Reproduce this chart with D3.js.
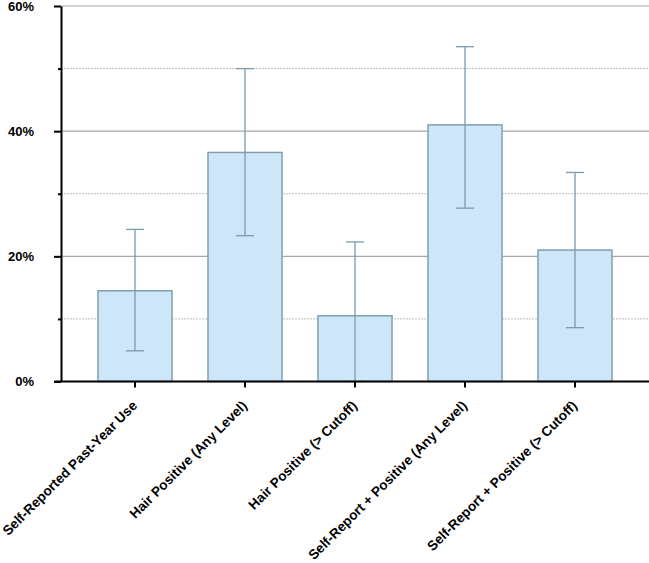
<!DOCTYPE html>
<html>
<head>
<meta charset="utf-8">
<script src="https://cdn.jsdelivr.net/npm/d3@7/dist/d3.min.js"></script>
<style>
  body { margin: 0; background: #fff; }
  svg { display: block; font-family: "Liberation Sans", Arial, sans-serif; }
</style>
</head>
<body>
<svg id="chart" width="649" height="563"></svg>
<script>
const categories = [
  "Self-Reported Past-Year Use",
  "Hair Positive (Any Level)",
  "Hair Positive (> Cutoff)",
  "Self-Report + Positive (Any Level)",
  "Self-Report + Positive (> Cutoff)"
];
const values = [14.5, 36.6, 10.5, 41.0, 21.0];
const lowerCI = [4.9, 23.3, 0.0, 27.7, 8.6];
const upperCI = [24.3, 50.0, 22.3, 53.5, 33.4];
const majorTicks = [0, 20, 40, 60];
const minorTicks = [10, 30, 50];

const svg = d3.select("#chart");
const axisX = 61, plotRight = 649;
const y = d3.scaleLinear().domain([0, 60]).range([381.5, 6]);
const x = d3.scaleBand().domain(categories).range([80, 630])
  .paddingInner(0.327).paddingOuter(0.1635);

const data = categories.map((c, i) => ({c, v: values[i], lo: lowerCI[i], hi: upperCI[i]}));

// gridlines
svg.append("g").selectAll("line").data(minorTicks).join("line")
  .attr("x1", axisX).attr("x2", plotRight)
  .attr("y1", d => y(d)).attr("y2", d => y(d))
  .attr("stroke", "#bdbdbd").attr("stroke-width", 1).attr("stroke-dasharray", "2,1");
svg.append("g").selectAll("line").data(majorTicks.filter(d => d > 0)).join("line")
  .attr("x1", axisX).attr("x2", plotRight)
  .attr("y1", d => y(d)).attr("y2", d => y(d))
  .attr("stroke", "#a6a6a6").attr("stroke-width", 1.2);

// bars
svg.append("g").selectAll("rect").data(data).join("rect")
  .attr("x", d => x(d.c)).attr("width", x.bandwidth())
  .attr("y", d => y(d.v)).attr("height", d => y(0) - y(d.v))
  .attr("fill", "#cde7f8").attr("stroke", "#7f9fb0").attr("stroke-width", 1.5);

// error bars
const eb = svg.append("g").attr("stroke", "#7b9aab").attr("stroke-width", 1.3);
eb.selectAll("line.v").data(data).join("line").attr("class", "v")
  .attr("x1", d => x(d.c) + x.bandwidth() / 2).attr("x2", d => x(d.c) + x.bandwidth() / 2)
  .attr("y1", d => y(d.lo)).attr("y2", d => y(d.hi));
eb.selectAll("line.hi").data(data).join("line").attr("class", "hi")
  .attr("x1", d => x(d.c) + x.bandwidth() / 2 - 9).attr("x2", d => x(d.c) + x.bandwidth() / 2 + 9)
  .attr("y1", d => y(d.hi)).attr("y2", d => y(d.hi));
eb.selectAll("line.lo").data(data).join("line").attr("class", "lo")
  .attr("x1", d => x(d.c) + x.bandwidth() / 2 - 9).attr("x2", d => x(d.c) + x.bandwidth() / 2 + 9)
  .attr("y1", d => y(d.lo)).attr("y2", d => y(d.lo));

// y axis
const yAxis = svg.append("g").attr("transform", `translate(${axisX},0)`)
  .call(d3.axisLeft(y).tickValues(majorTicks).tickSize(7).tickSizeOuter(0).tickFormat(d => d + "%"));
yAxis.select(".domain").attr("stroke", "#000").attr("stroke-width", 2);
yAxis.selectAll(".tick line").attr("stroke", "#000").attr("stroke-width", 2);
yAxis.selectAll(".tick text").attr("x", -27).attr("font-size", 13).attr("font-weight", "bold")
  .attr("font-family", "Liberation Sans, Arial, sans-serif").attr("fill", "#000");
svg.append("g").attr("transform", `translate(${axisX},0)`)
  .call(d3.axisLeft(y).tickValues(minorTicks).tickSize(3).tickFormat(""))
  .call(g => g.select(".domain").remove())
  .selectAll(".tick line").attr("stroke", "#000").attr("stroke-width", 2);

// x axis
const xAxis = svg.append("g").attr("transform", `translate(0,${y(0)})`)
  .call(d3.axisBottom(x).tickSize(6).tickSizeOuter(0));
xAxis.select(".domain").attr("d", `M${axisX - 7},0H${plotRight}`).attr("stroke", "#000").attr("stroke-width", 2);
xAxis.selectAll(".tick line").attr("stroke", "#000").attr("stroke-width", 2);
xAxis.selectAll(".tick text")
  .attr("font-size", 13.6).attr("font-weight", "bold").attr("fill", "#000")
  .attr("font-family", "Liberation Sans, Arial, sans-serif")
  .attr("text-anchor", "end").attr("dy", null).attr("y", 0)
  .attr("transform", "translate(3,25) rotate(-45)");
</script>
</body>
</html>
